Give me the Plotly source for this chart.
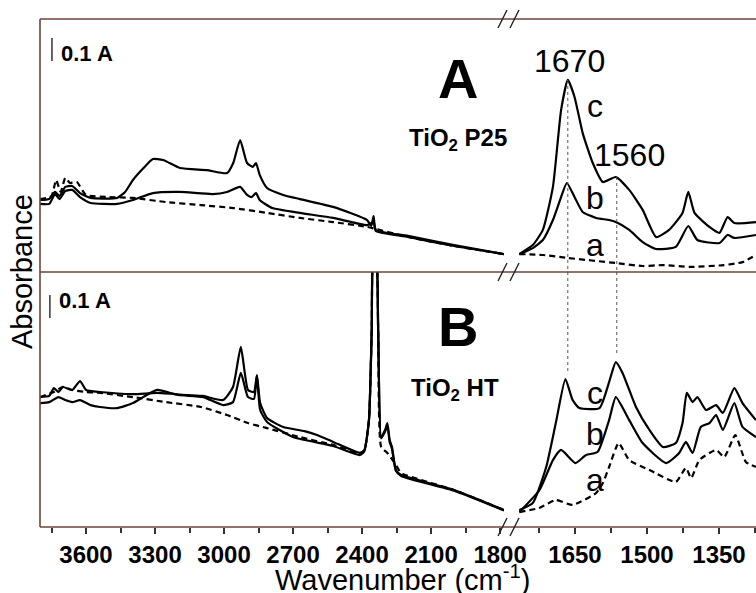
import plotly.graph_objects as go

W, H = 756, 593

# ---------------- data (absorbance, arbitrary offset) ----------------
# Panel A (TiO2 P25), high-wavenumber segment
A_L_c_wn = [3800,3760,3735,3715,3690,3660,3626,3580,3465,3430,3396,3350,3309,3265,3191,3074,2987,2960,2930,2900,2875,2861,2845,2813,2743,2670,2526,2378,2360,2350,2340,2200,2000,1783]
A_L_c = [0.313,0.317,0.348,0.330,0.370,0.374,0.343,0.322,0.322,0.348,0.400,0.452,0.491,0.487,0.452,0.443,0.430,0.474,0.574,0.474,0.457,0.474,0.422,0.365,0.335,0.317,0.283,0.226,0.200,0.243,0.183,0.157,0.117,0.078]
A_L_b_wn = [3800,3760,3735,3715,3690,3660,3626,3580,3465,3396,3309,3191,3050,2987,2930,2900,2880,2861,2845,2790,2670,2526,2378,2350,2340,2200,2000,1783]
A_L_b = [0.296,0.296,0.339,0.317,0.352,0.357,0.326,0.300,0.296,0.313,0.343,0.348,0.339,0.348,0.370,0.335,0.326,0.343,0.313,0.278,0.257,0.235,0.204,0.217,0.178,0.152,0.113,0.078]
A_L_a_wn = [3800,3750,3730,3710,3690,3670,3640,3600,3500,3396,3252,3100,2960,2813,2670,2526,2378,2200,2000,1783]
A_L_a = [0.317,0.330,0.400,0.348,0.409,0.387,0.391,0.335,0.326,0.322,0.304,0.291,0.278,0.257,0.235,0.217,0.196,0.152,0.113,0.078]
# Panel A, low-wavenumber segment
A_R_c_wn = [1766,1738,1717,1696,1679,1665,1651,1634,1613,1592,1565,1537,1509,1481,1454,1426,1414,1401,1370,1349,1332,1318,1273]
A_R_c = [0.078,0.117,0.183,0.370,0.704,0.835,0.761,0.604,0.474,0.391,0.413,0.357,0.270,0.152,0.183,0.257,0.348,0.257,0.196,0.170,0.239,0.213,0.217]
A_R_b_wn = [1766,1738,1717,1696,1679,1667,1651,1634,1606,1579,1565,1537,1509,1481,1440,1414,1395,1349,1332,1318,1273]
A_R_b = [0.078,0.104,0.139,0.226,0.326,0.387,0.326,0.261,0.235,0.226,0.217,0.183,0.130,0.100,0.109,0.200,0.139,0.126,0.161,0.148,0.161]
A_R_a_wn = [1766,1717,1665,1565,1509,1467,1410,1340,1301,1273]
A_R_a = [0.078,0.074,0.061,0.039,0.026,0.030,0.022,0.030,0.043,0.074]

# Panel B (TiO2 HT), high-wavenumber segment
B_L_c_wn = [3800,3760,3740,3720,3700,3660,3626,3600,3539,3396,3291,3161,3091,3004,2961,2927,2896,2870,2857,2843,2813,2743,2650,2596,2526,2409,2390,2370,2358,2350,2340,2330,2317,2300,2290,2280,2270,2253,2230,2000,1783]
B_L_c = [0.565,0.570,0.604,0.587,0.609,0.596,0.635,0.596,0.587,0.578,0.583,0.574,0.570,0.552,0.609,0.783,0.596,0.587,0.661,0.539,0.474,0.435,0.417,0.400,0.370,0.322,0.335,0.465,0.857,1.204,1.204,0.857,0.391,0.422,0.452,0.378,0.348,0.248,0.226,0.161,0.074]
B_L_b_wn = [3800,3760,3720,3690,3660,3626,3580,3539,3465,3396,3352,3291,3200,3091,3004,2961,2927,2896,2870,2857,2843,2813,2700,2526,2409,2390,2370,2358,2350,2340,2330,2317,2300,2290,2280,2270,2253,2230,2000,1783]
B_L_b = [0.539,0.543,0.565,0.552,0.543,0.552,0.530,0.522,0.517,0.539,0.565,0.596,0.574,0.565,0.530,0.543,0.670,0.565,0.557,0.657,0.509,0.457,0.391,0.352,0.313,0.330,0.465,0.857,1.204,1.204,0.857,0.385,0.415,0.440,0.370,0.340,0.245,0.222,0.158,0.072]
B_L_a_wn = [3800,3740,3700,3660,3600,3539,3396,3252,3100,2987,2896,2813,2670,2526,2409,2390,2370,2358,2350,2340,2330,2317,2290,2253,2230,2000,1783]
B_L_a = [0.565,0.587,0.609,0.596,0.587,0.583,0.565,0.543,0.522,0.487,0.452,0.430,0.391,0.357,0.322,0.335,0.465,0.857,1.204,1.204,0.857,0.348,0.322,0.270,0.235,0.161,0.074]
# Panel B, low-wavenumber segment
B_R_c_wn = [1766,1738,1710,1690,1670,1655,1641,1599,1579,1565,1551,1523,1495,1467,1440,1426,1417,1405,1395,1377,1356,1342,1318,1301,1273]
B_R_c = [0.074,0.104,0.261,0.452,0.643,0.552,0.517,0.517,0.630,0.717,0.670,0.522,0.422,0.348,0.365,0.452,0.583,0.543,0.565,0.509,0.530,0.496,0.604,0.539,0.465]
B_R_b_wn = [1766,1724,1696,1679,1649,1627,1603,1579,1565,1537,1509,1460,1433,1419,1405,1388,1370,1356,1342,1318,1301,1273]
B_R_b = [0.065,0.161,0.291,0.335,0.278,0.313,0.326,0.465,0.565,0.465,0.365,0.278,0.322,0.370,0.322,0.435,0.452,0.487,0.422,0.539,0.435,0.391]
B_R_a_wn = [1766,1724,1690,1655,1606,1592,1579,1559,1537,1495,1440,1419,1408,1391,1356,1339,1316,1294,1273]
B_R_a = [0.065,0.083,0.117,0.096,0.148,0.191,0.261,0.365,0.291,0.248,0.196,0.257,0.213,0.291,0.335,0.304,0.400,0.283,0.261]

left_ticks = [3600, 3300, 3000, 2700, 2400, 2100, 1800]
left_minor = [3750, 3450, 3150, 2850, 2550, 2250, 1950]
right_ticks = [1650, 1500, 1350]
right_minor = [1725, 1575, 1425, 1275]
peak_lines = [1665, 1563]

LEFT_RANGE = [3800, 1783]
RIGHT_RANGE = [1766.7, 1272.9]
A_RANGE = [0, 1.10]
B_RANGE = [0, 1.109]

FONT = "Arial, Liberation Sans, sans-serif"
FRAME = "#6b4538"

# ---------------- layout geometry (pixels) ----------------
PX_L0, PX_L1, PX_R0, PX_R1 = 40, 504, 519, 756
PY_TOP, PY_MID, PY_BOT = 19, 272, 527
def fx(px): return px / W
def fy(py): return 1 - py / H

fig = go.Figure()

def add_curve(x, y, xa, ya, dashed=False):
    fig.add_trace(go.Scatter(
        x=x, y=y, xaxis=xa, yaxis=ya, mode="lines",
        line=dict(color="black", width=2.2, shape="spline", smoothing=0.5,
                  dash="6px,4px" if dashed else "solid"),
        showlegend=False, hoverinfo="skip"))

add_curve(A_L_a_wn, A_L_a, "x", "y", True)
add_curve(A_L_b_wn, A_L_b, "x", "y")
add_curve(A_L_c_wn, A_L_c, "x", "y")
add_curve(A_R_a_wn, A_R_a, "x2", "y2", True)
add_curve(A_R_b_wn, A_R_b, "x2", "y2")
add_curve(A_R_c_wn, A_R_c, "x2", "y2")
add_curve(B_L_a_wn, B_L_a, "x3", "y3", True)
add_curve(B_L_b_wn, B_L_b, "x3", "y3")
add_curve(B_L_c_wn, B_L_c, "x3", "y3")
add_curve(B_R_a_wn, B_R_a, "x4", "y4", True)
add_curve(B_R_b_wn, B_R_b, "x4", "y4")
add_curve(B_R_c_wn, B_R_c, "x4", "y4")

dom_L = [fx(PX_L0), fx(PX_L1)]
dom_R = [fx(PX_R0), fx(PX_R1)]
dom_A = [fy(PY_MID), fy(PY_TOP)]
dom_B = [fy(PY_BOT), fy(PY_MID)]

tickfont = dict(family=FONT, size=24, color="black", weight="bold")
common_x = dict(showgrid=False, zeroline=False, showline=False, ticks="outside",
                automargin=False, ticklen=6, tickwidth=1.5, tickcolor="#333", tickfont=tickfont)

def bold(vals):
    return ["<b>%d</b>" % v for v in vals]

fig.update_layout(
    template="none",
    width=W, height=H, autosize=False,
    margin=dict(l=0, r=0, t=0, b=0, pad=0, autoexpand=False),
    paper_bgcolor="white", plot_bgcolor="rgba(0,0,0,0)",
    xaxis=dict(domain=dom_L, range=LEFT_RANGE, anchor="y", visible=False, automargin=False),
    xaxis2=dict(domain=dom_R, range=RIGHT_RANGE, anchor="y2", visible=False, automargin=False),
    xaxis3=dict(domain=dom_L, range=LEFT_RANGE, anchor="y3", tickvals=left_ticks,
                ticktext=bold(left_ticks),
                minor=dict(tickvals=left_minor, ticks="outside", ticklen=5, tickwidth=1.5, tickcolor="#333"),
                **common_x),
    xaxis4=dict(domain=dom_R, range=RIGHT_RANGE, anchor="y4", tickvals=right_ticks,
                ticktext=bold(right_ticks),
                minor=dict(tickvals=right_minor, ticks="outside", ticklen=5, tickwidth=1.5, tickcolor="#333"),
                **common_x),
    yaxis=dict(domain=dom_A, range=A_RANGE, anchor="x", visible=False, automargin=False),
    yaxis2=dict(domain=dom_A, range=A_RANGE, anchor="x2", visible=False, automargin=False),
    yaxis3=dict(domain=dom_B, range=B_RANGE, anchor="x3", visible=False, automargin=False),
    yaxis4=dict(domain=dom_B, range=B_RANGE, anchor="x4", visible=False, automargin=False),
)

shapes = []
fl = dict(color=FRAME, width=1.6)
for py in (PY_TOP, PY_MID, PY_BOT):
    shapes.append(dict(type="line", xref="paper", yref="paper", x0=fx(PX_L0), x1=fx(PX_R1),
                       y0=fy(py), y1=fy(py), line=fl))
shapes.append(dict(type="line", xref="paper", yref="paper", x0=fx(PX_L0), x1=fx(PX_L0),
                   y0=fy(PY_TOP), y1=fy(PY_BOT), line=fl))
for py in (PY_TOP, PY_MID, PY_BOT):
    for bx in (498, 510):
        shapes.append(dict(type="line", xref="paper", yref="paper",
                           x0=fx(bx), x1=fx(bx + 9), y0=fy(py + 9), y1=fy(py - 9),
                           line=dict(color="#222", width=1.4)))
dot = dict(color="#555", width=1, dash="dot")
A_peaks = [max(A_R_c), 0.413]
B_peaks = [max(B_R_c[:8]), 0.717]
for wn, ya, yb in zip(peak_lines, A_peaks, B_peaks):
    shapes.append(dict(type="line", xref="x2", yref="y2", x0=wn, x1=wn, y0=ya, y1=A_RANGE[0], line=dot))
    shapes.append(dict(type="line", xref="x4", yref="y4", x0=wn, x1=wn, y0=B_RANGE[1], y1=yb + 0.03, line=dot))
shapes.append(dict(type="line", xref="x", yref="y", x0=3748, x1=3748, y0=0.917, y1=1.017,
                   line=dict(color="#333", width=1.5)))
shapes.append(dict(type="line", xref="x3", yref="y3", x0=3757, x1=3757, y0=0.909, y1=1.009,
                   line=dict(color="#333", width=1.5)))
fig.update_layout(shapes=shapes)

ann = []
def txt(text, x, y, xr, yr, size, bold=False, xanchor="center", yanchor="middle"):
    ann.append(dict(text=("<b>%s</b>" % text) if bold else text, x=x, y=y, xref=xr, yref=yr,
                    showarrow=False, xanchor=xanchor, yanchor=yanchor,
                    font=dict(family=FONT, size=size, color="black")))

txt("0.1 A", 3717, 0.948, "x", "y", 22, True, "left")
txt("0.1 A", 3726, 0.987, "x3", "y3", 22, True, "left")
txt("A", 1983, 0.843, "x", "y", 56, True)
txt("B", 1983, 0.874, "x3", "y3", 56, True)
txt("TiO<sub>2</sub> P25", 1983, 0.575, "x", "y", 24, True)
txt("TiO<sub>2</sub> HT", 1996, 0.596, "x3", "y3", 24, True)
txt("1670", 1662, 0.917, "x2", "y2", 32)
txt("1560", 1537, 0.509, "x2", "y2", 32)
for lab, y in (("c", 0.722), ("b", 0.322), ("a", 0.117)):
    txt(lab, 1609, y, "x2", "y2", 32)
for lab, y in (("c", 0.583), ("b", 0.404), ("a", 0.204)):
    txt(lab, 1609, y, "x4", "y4", 32)
txt("Wavenumber (cm<sup>-1</sup>)", fx(403), fy(578), "paper", "paper", 29)
ann.append(dict(text="Absorbance", x=fx(22), y=fy(272), xref="paper", yref="paper",
                showarrow=False, textangle=-90, xanchor="center", yanchor="middle",
                font=dict(family=FONT, size=29, color="black")))
fig.update_layout(annotations=ann)

fig.write_html(
    "out.html",
    config={"responsive": False, "displayModeBar": False},
    default_width="756px", default_height="593px",
    post_script="document.documentElement.style.overflow='hidden';"
                "document.body.style.margin='0';document.body.style.overflow='hidden';"
                "var gd=document.getElementById('{plot_id}');"
                "Plotly.relayout(gd,{width:756,height:593});",
)
